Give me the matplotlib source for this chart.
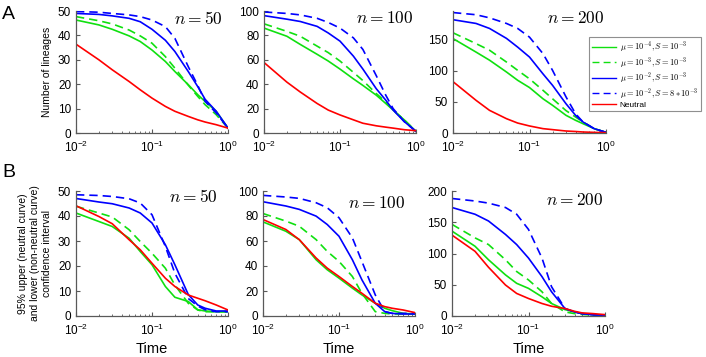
import numpy as np
import matplotlib

matplotlib.use("Agg")
import matplotlib.pyplot as plt
from matplotlib.lines import Line2D
from matplotlib.font_manager import FontProperties
from matplotlib.ticker import LogLocator, FixedLocator, NullFormatter, FuncFormatter

plt.rcParams["font.family"] = ["Liberation Sans", "DejaVu Sans"]
plt.rcParams["mathtext.fontset"] = "custom"
plt.rcParams["mathtext.rm"] = "Liberation Sans"
plt.rcParams["mathtext.it"] = "Liberation Sans:italic"

# time grid (log scale), same for every panel
t = [0.01, 0.02, 0.03, 0.05, 0.07, 0.1, 0.15, 0.2, 0.3, 0.4, 0.5, 0.7, 1.0]

# --- row A: number of lineages ---
a50_green = [46.3, 44.3, 42.5, 39.8, 37.5, 34.0, 29.3, 25.2, 19.8, 15.7, 12.9, 8.9, 2.0]
a50_green_d = [47.7, 46.0, 44.7, 42.2, 39.8, 36.8, 31.3, 26.6, 19.6, 15.0, 11.6, 7.5, 2.0]
a50_blue = [49.0, 48.6, 48.0, 47.0, 45.6, 42.5, 38.0, 33.4, 25.2, 19.0, 13.8, 8.9, 2.0]
a50_blue_d = [49.8, 49.5, 49.0, 48.4, 47.7, 46.3, 43.6, 38.8, 27.2, 19.5, 13.0, 8.2, 2.0]
a50_red = [36.4, 30.0, 25.9, 21.1, 17.7, 14.3, 10.9, 8.9, 6.8, 5.4, 4.5, 3.4, 2.0]

a100_green = [86.0, 79.3, 72.6, 64.5, 59.0, 52.4, 44.4, 39.0, 31.0, 24.2, 18.8, 10.8, 1.3]
a100_green_d = [89.5, 83.3, 79.3, 71.2, 65.9, 59.0, 49.7, 43.0, 32.3, 25.5, 18.8, 10.8, 1.3]
a100_blue = [96.2, 93.3, 91.4, 87.4, 82.0, 75.3, 63.0, 52.4, 36.3, 26.9, 18.8, 9.4, 1.3]
a100_blue_d = [99.2, 98.0, 96.8, 94.0, 90.6, 86.0, 78.0, 68.5, 47.0, 31.0, 20.0, 9.4, 1.3]
a100_red = [57.8, 41.7, 33.6, 24.2, 18.8, 14.8, 10.8, 8.0, 5.9, 4.8, 4.0, 2.7, 1.9]

a200_green = [151.7, 130.0, 117.0, 98.0, 84.7, 73.0, 55.0, 44.5, 28.4, 20.4, 15.0, 7.0, 1.0]
a200_green_d = [161.0, 143.6, 133.0, 114.0, 100.7, 87.0, 68.6, 55.0, 36.0, 25.7, 17.7, 7.0, 1.0]
a200_blue = [182.0, 176.0, 168.0, 152.0, 138.0, 122.0, 95.0, 76.6, 47.0, 28.4, 17.7, 7.0, 1.0]
a200_blue_d = [193.5, 190.0, 185.0, 176.0, 168.0, 154.0, 127.5, 100.7, 58.0, 31.0, 17.7, 7.0, 1.0]
a200_red = [82.5, 52.5, 36.4, 23.0, 16.0, 11.3, 7.0, 5.4, 3.2, 2.4, 1.6, 1.0, 0.5]

# --- row B: 95% confidence bounds ---
b50_green = [41.2, 37.8, 35.8, 31.1, 25.8, 20.5, 11.8, 7.5, 5.8, 2.5, 2.0, 1.7, 1.7]
b50_green_d = [43.9, 41.2, 39.6, 34.5, 29.8, 25.1, 19.1, 12.4, 5.1, 2.4, 1.7, 1.7, 1.7]
b50_blue = [47.0, 45.6, 44.9, 43.2, 41.2, 37.2, 28.5, 20.5, 8.6, 4.4, 3.1, 2.0, 2.0]
b50_blue_d = [48.5, 48.2, 47.8, 46.9, 45.2, 40.5, 27.8, 17.1, 7.0, 4.0, 2.5, 1.7, 1.7]
b50_red = [44.1, 39.8, 36.9, 30.5, 26.5, 21.1, 15.1, 11.8, 8.4, 7.1, 6.1, 4.4, 2.4]

b100_green = [75.3, 67.8, 61.1, 45.0, 37.0, 30.3, 22.3, 16.9, 10.2, 6.2, 4.3, 2.1, 1.6]
b100_green_d = [82.0, 75.9, 71.8, 61.1, 51.7, 43.7, 31.6, 18.2, 3.5, 2.1, 1.6, 1.6, 1.6]
b100_blue = [91.4, 88.0, 85.3, 79.9, 73.2, 63.8, 45.0, 29.0, 10.2, 3.5, 2.1, 1.6, 1.6]
b100_blue_d = [96.5, 95.2, 94.1, 90.6, 86.6, 78.6, 62.5, 43.7, 16.9, 3.5, 2.1, 2.1, 2.1]
b100_red = [77.2, 69.2, 61.1, 46.4, 38.3, 31.6, 23.6, 18.2, 10.2, 7.5, 6.2, 4.8, 2.7]

b200_green = [135.8, 111.6, 90.0, 65.8, 52.3, 44.2, 30.7, 20.0, 10.2, 6.5, 3.8, 2.0, 1.0]
b200_green_d = [146.6, 125.0, 114.3, 90.0, 71.2, 57.7, 38.8, 20.0, 6.5, 3.8, 2.5, 1.5, 1.0]
b200_blue = [173.6, 162.8, 152.0, 130.5, 114.3, 92.7, 63.0, 38.8, 11.9, 6.5, 3.8, 2.0, 1.0]
b200_blue_d = [188.0, 184.0, 180.6, 173.6, 162.8, 138.5, 92.7, 46.9, 11.9, 6.5, 3.8, 2.0, 1.0]
b200_red = [129.4, 103.5, 78.0, 49.6, 36.1, 28.0, 20.0, 15.6, 11.9, 7.5, 5.0, 3.8, 2.2]

ns = [50, 100, 200]
ylims_a = [50, 100, 196]
ylims_b = [50, 100, 200]
yticks_a = [np.arange(0, 51, 10), np.arange(0, 101, 20), np.arange(0, 151, 50)]
yticks_b = [np.arange(0, 51, 10), np.arange(0, 101, 20), np.arange(0, 201, 50)]

rows_a = [
    [a50_green, a50_green_d, a50_blue, a50_blue_d, a50_red],
    [a100_green, a100_green_d, a100_blue, a100_blue_d, a100_red],
    [a200_green, a200_green_d, a200_blue, a200_blue_d, a200_red],
]
rows_b = [
    [b50_green, b50_green_d, b50_blue, b50_blue_d, b50_red],
    [b100_green, b100_green_d, b100_blue, b100_blue_d, b100_red],
    [b200_green, b200_green_d, b200_blue, b200_blue_d, b200_red],
]

GREEN, BLUE, RED = "#10e010", "#0000ff", "#ff0000"
DASH = (0, (5, 3))
styles = [(GREEN, "-"), (GREEN, DASH), (BLUE, "-"), (BLUE, DASH), (RED, "-")]
legend_labels = [r"$\mu = 10^{-4}, S = 10^{-3}$", r"$\mu = 10^{-3}, S = 10^{-3}$",
                 r"$\mu = 10^{-2}, S = 10^{-3}$", r"$\mu = 10^{-2}, S = 8*10^{-3}$", "Neutral"]

W, H = 706, 357
fig = plt.figure(figsize=(W / 100, H / 100), dpi=100)

# axes boxes in pixels: (left, top, right, bottom)
boxes_a = [(76, 11, 228, 133), (264, 11, 416, 133), (453, 11, 606, 133)]
boxes_b = [(76, 191, 228, 316), (263, 191, 415, 316), (452, 191, 605, 316)]
ntext_a = [(0.967, 0.94), (0.98, 0.94), (0.99, 0.94)]
ntext_b = [(0.93, 0.958), (0.934, 0.907), (0.987, 0.926)]


def px_axes(box):
    l, tp, r, b = box
    return fig.add_axes([l / W, 1 - b / H, (r - l) / W, (b - tp) / H])


def sci(x, pos):
    e = int(round(np.log10(x)))
    return r"$\mathregular{10^{%d}}$" % e


def style_axes(ax, ymax, yticks):
    ax.set_xscale("log")
    ax.set_xlim(0.01, 1)
    ax.set_ylim(0, ymax)
    ax.set_yticks(yticks)
    ax.xaxis.set_major_locator(FixedLocator([0.01, 0.1, 1]))
    ax.xaxis.set_major_formatter(FuncFormatter(sci))
    ax.xaxis.set_minor_locator(LogLocator(base=10, subs=np.arange(2, 10)))
    ax.xaxis.set_minor_formatter(NullFormatter())
    for s in ("top", "right"):
        ax.spines[s].set_visible(False)
    for s in ("left", "bottom"):
        ax.spines[s].set_color("0.35")
        ax.spines[s].set_linewidth(0.9)
    ax.tick_params(which="major", direction="in", length=3, labelsize=8.5, color="0.35")
    ax.tick_params(axis="x", which="major", pad=5)
    ax.tick_params(which="minor", direction="in", length=1.5, color="0.35")
    ax.patch.set_alpha(0)


for rows, boxes, ylims, yticks, ntext in [
    (rows_a, boxes_a, ylims_a, yticks_a, ntext_a),
    (rows_b, boxes_b, ylims_b, yticks_b, ntext_b),
]:
    for k in range(3):
        ax = px_axes(boxes[k])
        for y, (c, ls) in zip(rows[k], styles):
            ax.plot(t, y, color=c, ls=ls, lw=1.2)
        style_axes(ax, ylims[k], yticks[k])
        ax.text(ntext[k][0], ntext[k][1], r"$n = %d$" % ns[k], transform=ax.transAxes,
                ha="right", va="center", fontsize=12.5, math_fontfamily="cm")
        if rows is rows_b:
            ax.set_xlabel("Time", fontsize=10.5, labelpad=3)
        if k == 0 and rows is rows_a:
            ax.set_ylabel("Number of lineages", fontsize=7.5, labelpad=4)
        if k == 0 and rows is rows_b:
            ax.set_ylabel("95% upper (neutral curve)\nand lower (non-neutral curve)\nconfidence interval",
                          fontsize=7.5, labelpad=4, linespacing=1.25)

fig.text(2 / W, 1 - 6 / H, "A", fontsize=14, va="top", ha="left")
fig.text(2 / W, 1 - 164 / H, "B", fontsize=14, va="top", ha="left")

handles = [Line2D([], [], color=c, ls=ls, lw=1.0) for c, ls in styles]
leg = fig.legend(handles, legend_labels, loc="upper left",
                 bbox_to_anchor=(589 / W, 1 - 37 / H),
                 prop=FontProperties(family="Liberation Sans", size=6, math_fontfamily="cm"),
                 frameon=True, fancybox=False, handlelength=2.9, labelspacing=0.05,
                 borderpad=0.3, handletextpad=0.5, borderaxespad=0)
leg.get_frame().set_edgecolor("0.45")
leg.get_frame().set_linewidth(0.8)

fig.savefig("out.png", dpi=100)
